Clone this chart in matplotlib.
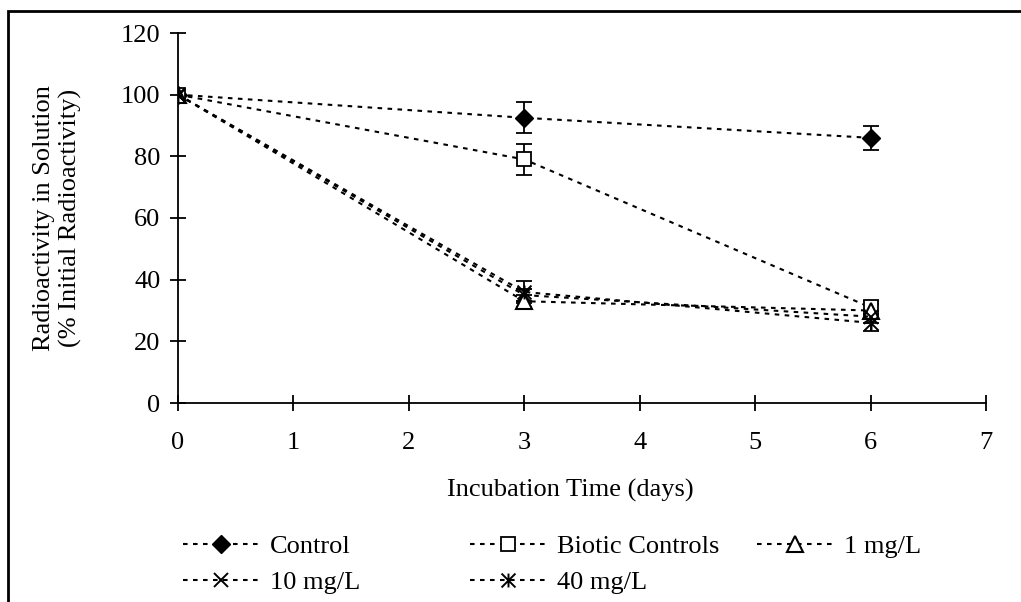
import matplotlib
matplotlib.use("Agg")
import matplotlib.pyplot as plt
from matplotlib.path import Path
from matplotlib.patches import Rectangle

plt.rcParams['font.family'] = ['Liberation Serif', 'DejaVu Serif']

days = [0, 3, 6]
control = [100, 92.5, 86]
control_err = [0, 5, 4]
biotic = [100, 79, 31]
biotic_err = [0, 5, 2]
mg1 = [100, 33, 30]
mg1_err = [0, 2, 2]
mg10 = [100, 35, 28]
mg10_err = [0, 2, 2]
mg40 = [100, 36, 26]
mg40_err = [0, 3.5, 2.5]
labels = ["Control", "Biotic Controls", "1 mg/L", "10 mg/L", "40 mg/L"]
xticks = [0, 1, 2, 3, 4, 5, 6, 7]
yticks = [0, 20, 40, 60, 80, 100, 120]

W, H = 1021, 602
FS = 19
fig = plt.figure(figsize=(W / 100, H / 100), dpi=100)
ax = fig.add_axes([178 / W, 1 - 403 / H, (986 - 178) / W, (403 - 33) / H])

star = Path([(0, -1), (0, 1), (-1, -1), (1, 1), (-1, 1), (1, -1)],
            [Path.MOVETO, Path.LINETO, Path.MOVETO, Path.LINETO, Path.MOVETO, Path.LINETO])

ls = (0, (2.2, 2.6))
series = [
    (control, control_err, dict(marker='D', markersize=9, mfc='black', mec='black')),
    (biotic, biotic_err, dict(marker='s', markersize=10, mfc='white', mec='black', mew=1.3)),
    (mg1, mg1_err, dict(marker='^', markersize=11, mfc='white', mec='black', mew=1.5)),
    (mg10, mg10_err, dict(marker='x', markersize=10, mec='black', mew=1.4)),
    (mg40, mg40_err, dict(marker=star, markersize=10, mec='black', mew=1.4)),
]
handles = []
for (vals, err, mk), lab in zip(series, labels):
    ax.errorbar(days, vals, yerr=err, fmt='none', ecolor='black', elinewidth=1.3,
                capsize=6, capthick=1.3, zorder=2)
    h, = ax.plot(days, vals, color='black', linestyle=ls, linewidth=1.5, label=lab,
                 zorder=3, **mk)
    handles.append(h)

ax.set_xlim(0, 7)
ax.set_ylim(0, 120)
ax.set_xticks(xticks)
ax.set_yticks(yticks)
for s in ['top', 'right']:
    ax.spines[s].set_visible(False)
for s in ['left', 'bottom']:
    ax.spines[s].set_linewidth(1.3)
ax.tick_params(direction='inout', length=11.5, width=1.3, labelsize=FS)
ax.tick_params(axis='y', pad=7)
ax.tick_params(axis='x', pad=15)

fig.text(570 / W, 1 - 490 / H, "Incubation Time (days)", fontsize=FS,
         ha='center', va='center')
ax.set_ylabel("Radioactivity in Solution\n(% Initial Radioactivity)", fontsize=FS,
              linespacing=1.2)
ax.yaxis.set_label_coords((82 - 178) / 808, 0.5)

# Excel-style legend: three equal-width columns
columns = [[0, 3], [1, 4], [2]]
col_x = [183, 470, 757]
for idxs, cx in zip(columns, col_x):
    fig.legend([handles[i] for i in idxs], [labels[i] for i in idxs],
               loc='upper left', bbox_to_anchor=(cx / W, 1 - 535 / H),
               frameon=False, fontsize=FS, handlelength=2.9, handletextpad=0.4,
               labelspacing=0.45, borderaxespad=0, borderpad=0)

fig.patches.append(Rectangle((8 / W, -0.1), 1.2, 1.1 - 11 / H, transform=fig.transFigure,
                             fill=False, edgecolor='black', linewidth=2))

fig.savefig("out.png", dpi=100)
